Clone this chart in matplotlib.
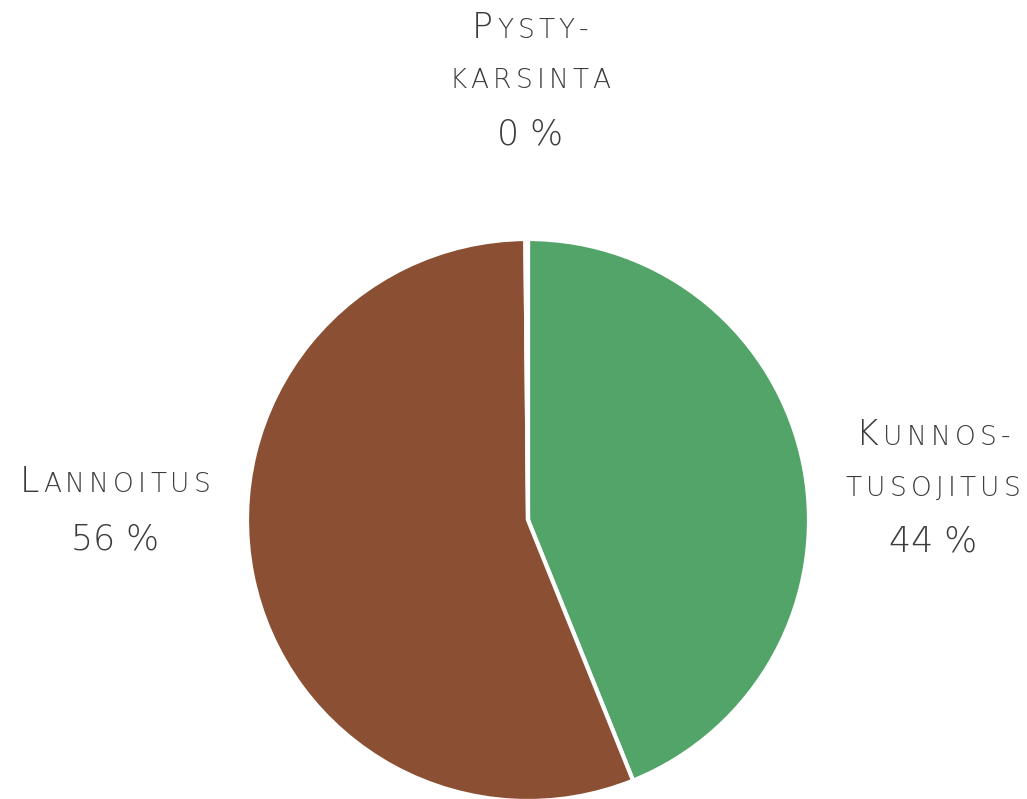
import matplotlib
matplotlib.use("Agg")
import matplotlib.pyplot as plt
from matplotlib.offsetbox import TextArea, HPacker, VPacker, AnnotationBbox

# Pie of measures, labels in small caps around the pie
names = ["Kunnostusojitus", "Lannoitus", "Pystykarsinta"]
label_lines = [["Kunnos-", "tusojitus"], ["Lannoitus"], ["Pysty-", "karsinta"]]
shares = [43.9, 55.95, 0.15]
colors = ["#52a468", "#8b4f33", "#f4f4f4"]

W, H = 1027, 799
CX, CY, R = 528, 520, 281  # pie centre / radius in pixels (from top)

BIG = 25
SMALL = 19
TXT = "#3c3c3c"
FONT = "DejaVu Sans"


def small_caps(word, first_big):
    parts = []
    for i, ch in enumerate(word):
        big = (i == 0 and first_big)
        parts.append(TextArea(ch.upper(), textprops=dict(
            fontsize=BIG if big else SMALL, color=TXT, family=FONT,
            fontweight="light")))
    return HPacker(children=parts, align="baseline", pad=0, sep=3)


def label_box(lines, pct):
    rows = []
    for j, line in enumerate(lines):
        rows.append(small_caps(line, first_big=(j == 0)))
    rows.append(TextArea(f"{pct:.0f} %", textprops=dict(
        fontsize=BIG, color=TXT, family=FONT, fontweight="light")))
    return VPacker(children=rows, align="center", pad=0, sep=17)


def main():
    fig = plt.figure(figsize=(W / 100, H / 100), dpi=100)
    ax = fig.add_axes([0, 0, 1, 1])

    ax.pie(shares, colors=colors, startangle=90, counterclock=False,
           radius=1.0, center=(0, 0), frame=True,
           wedgeprops=dict(edgecolor="white", linewidth=3))
    ax.set_xlim(-CX / R, (W - CX) / R)
    ax.set_ylim(-(H - CY) / R, CY / R)
    ax.set_aspect("equal")
    ax.axis("off")

    # label block centres in pixels (x, y from top)
    spots = [(933, 488), (115, 511), (530, 81)]
    for lines, pct, (px, py) in zip(label_lines, shares, spots):
        box = label_box(lines, pct)
        ab = AnnotationBbox(box, (px / W, 1 - py / H), xycoords="figure fraction",
                            box_alignment=(0.5, 0.5), frameon=False, pad=0)
        ax.add_artist(ab)

    fig.savefig("out.png", dpi=100, facecolor="white")


if __name__ == "__main__":
    main()
